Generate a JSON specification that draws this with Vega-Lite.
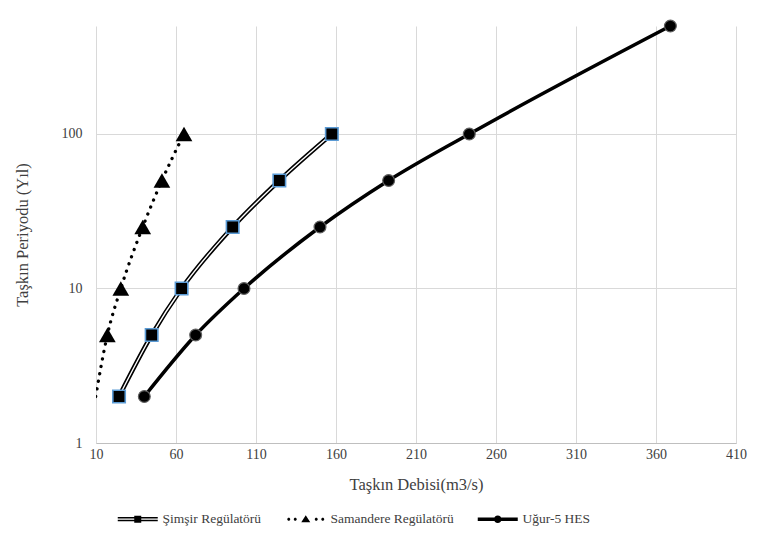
{
  "$schema": "https://vega.github.io/schema/vega-lite/v6.json",
  "width": 640,
  "height": 417,
  "autosize": {"type": "none"},
  "padding": {"left": 96, "top": 26, "right": 21, "bottom": 110},
  "background": "white",
  "config": {"view": {"stroke": null}, "font": "Liberation Serif"},
  "data": {
    "values": [
      {"series": "Şimşir Regülatörü", "x": 24.4, "y": 2},
      {"series": "Şimşir Regülatörü", "x": 44.8, "y": 5},
      {"series": "Şimşir Regülatörü", "x": 63.5, "y": 10},
      {"series": "Şimşir Regülatörü", "x": 95.4, "y": 25},
      {"series": "Şimşir Regülatörü", "x": 124.6, "y": 50},
      {"series": "Şimşir Regülatörü", "x": 157.4, "y": 100},
      {"series": "Samandere Regülatörü", "x": 9.8, "y": 2},
      {"series": "Samandere Regülatörü", "x": 17.1, "y": 5},
      {"series": "Samandere Regülatörü", "x": 25.5, "y": 10},
      {"series": "Samandere Regülatörü", "x": 39.2, "y": 25},
      {"series": "Samandere Regülatörü", "x": 51.2, "y": 50},
      {"series": "Samandere Regülatörü", "x": 65, "y": 100},
      {"series": "Uğur-5 HES", "x": 40.2, "y": 2},
      {"series": "Uğur-5 HES", "x": 72.3, "y": 5},
      {"series": "Uğur-5 HES", "x": 102.5, "y": 10},
      {"series": "Uğur-5 HES", "x": 150, "y": 25},
      {"series": "Uğur-5 HES", "x": 192.9, "y": 50},
      {"series": "Uğur-5 HES", "x": 243.3, "y": 100},
      {"series": "Uğur-5 HES", "x": 369, "y": 500}
    ]
  },
  "encoding": {
    "x": {
      "field": "x",
      "type": "quantitative",
      "title": "Taşkın Debisi(m3/s)",
      "scale": {"domain": [10, 410], "nice": false, "zero": false},
      "axis": {
        "values": [10, 60, 110, 160, 210, 260, 310, 360, 410],
        "grid": true,
        "gridColor": "#d9d9d9",
        "gridWidth": 1,
        "domainColor": "#bfbfbf",
        "domainWidth": 1,
        "ticks": false,
        "labelFlush": false,
        "labelFont": "Liberation Serif",
        "labelFontSize": 14,
        "labelColor": "#404040",
        "labelPadding": 4,
        "titleFont": "Liberation Serif",
        "titleFontSize": 16.5,
        "titleFontWeight": "normal",
        "titleColor": "#404040",
        "titlePadding": 15
      }
    },
    "y": {
      "field": "y",
      "type": "quantitative",
      "title": "Taşkın Periyodu (Yıl)",
      "scale": {"type": "log", "domain": [1, 500], "nice": false},
      "axis": {
        "values": [1, 10, 100],
        "format": "d",
        "grid": true,
        "gridColor": "#d9d9d9",
        "gridWidth": 1,
        "domain": false,
        "ticks": false,
        "labelFlush": false,
        "labelFont": "Liberation Serif",
        "labelFontSize": 14,
        "labelColor": "#404040",
        "labelPadding": 14,
        "titleFont": "Liberation Serif",
        "titleFontSize": 16.5,
        "titleFontWeight": "normal",
        "titleColor": "#404040",
        "titlePadding": 31
      }
    }
  },
  "layer": [
    {
      "transform": [{"filter": "datum.series === 'Uğur-5 HES'"}],
      "mark": {"type": "line", "color": "black", "strokeWidth": 3.5, "interpolate": "monotone", "clip": true}
    },
    {
      "transform": [{"filter": "datum.series === 'Şimşir Regülatörü'"}],
      "mark": {"type": "line", "color": "black", "strokeWidth": 4.5, "interpolate": "monotone", "clip": true}
    },
    {
      "transform": [{"filter": "datum.series === 'Şimşir Regülatörü'"}],
      "mark": {"type": "line", "color": "white", "strokeWidth": 1.4, "interpolate": "monotone", "clip": true}
    },
    {
      "transform": [{"filter": "datum.series === 'Samandere Regülatörü'"}],
      "mark": {"type": "line", "color": "black", "strokeWidth": 3.3, "strokeDash": [0.1, 7.5], "strokeCap": "round", "interpolate": "monotone", "clip": true}
    },
    {
      "transform": [{"filter": "datum.series === 'Uğur-5 HES'"}],
      "mark": {"type": "point", "shape": "circle", "filled": true, "fill": "black", "stroke": "#606060", "strokeWidth": 1.2, "size": 140, "opacity": 1}
    },
    {
      "transform": [{"filter": "datum.series === 'Şimşir Regülatörü'"}],
      "mark": {"type": "point", "shape": "square", "filled": true, "fill": "black", "stroke": "#5B9BD5", "strokeWidth": 1.6, "size": 155, "opacity": 1}
    },
    {
      "transform": [{"filter": "datum.series === 'Samandere Regülatörü' && datum.x >= 10"}],
      "mark": {"type": "point", "shape": "triangle-up", "filled": true, "fill": "black", "size": 280, "opacity": 1}
    },
    {
      "transform": [{"filter": "datum.y < 0"}],
      "mark": {"type": "point", "filled": true, "color": "black", "size": 100, "strokeWidth": 0, "opacity": 1},
      "encoding": {
        "shape": {
          "field": "series",
          "type": "nominal",
          "scale": {
            "domain": ["Şimşir Regülatörü", "Samandere Regülatörü", "Uğur-5 HES"],
            "range": [
              "M-1,-0.42H7V-0.14H-1Z M-1,0.14H7V0.42H-1Z M2.3,-0.7H3.7V0.7H2.3Z",
              "M-0.7,0a0.3,0.3 0 1,1 0.6,0a0.3,0.3 0 1,1 -0.6,0Z M0.6,0a0.3,0.3 0 1,1 0.6,0a0.3,0.3 0 1,1 -0.6,0Z M4.8,0a0.3,0.3 0 1,1 0.6,0a0.3,0.3 0 1,1 -0.6,0Z M6.1,0a0.3,0.3 0 1,1 0.6,0a0.3,0.3 0 1,1 -0.6,0Z M3,-0.8L3.9,0.6L2.1,0.6Z",
              "M-1,-0.35H7V0.35H-1Z M2.25,0a0.75,0.75 0 1,1 1.5,0a0.75,0.75 0 1,1 -1.5,0Z"
            ]
          },
          "legend": {
            "orient": "none",
            "legendX": 20,
            "legendY": 486,
            "direction": "horizontal",
            "columns": 3,
            "title": null,
            "padding": 0,
            "labelFont": "Liberation Serif",
            "labelFontSize": 13.5,
            "labelColor": "#404040",
            "labelOffset": 33,
            "columnPadding": 22,
            "symbolSize": 100,
            "symbolStrokeWidth": 0,
            "symbolFillColor": "black",
            "symbolOpacity": 1
          }
        }
      }
    }
  ]
}
